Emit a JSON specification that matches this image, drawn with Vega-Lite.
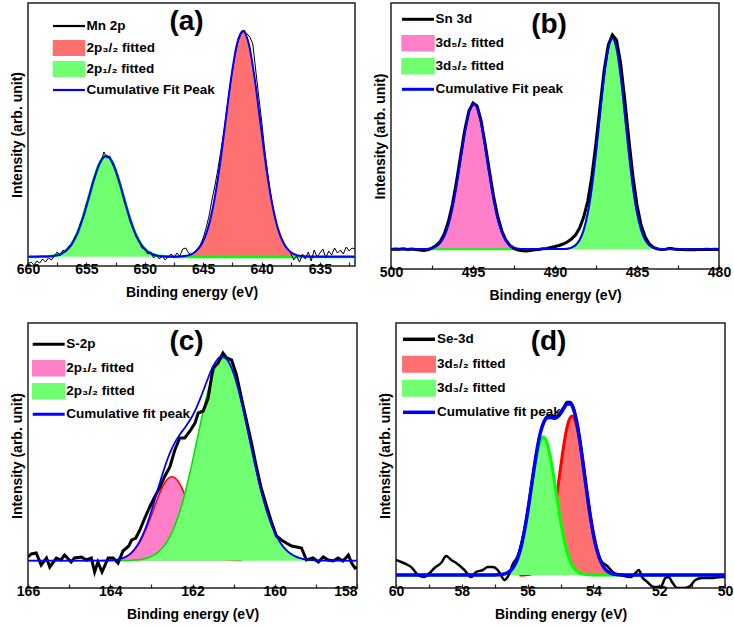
{
  "$schema": "https://vega.github.io/schema/vega-lite/v6.json",
  "background": "white",
  "padding": {"left": 9, "top": 2, "right": 0, "bottom": 0},
  "config": {
    "font": "Liberation Sans",
    "view": {"stroke": "#222222", "strokeWidth": 1.5},
    "axis": {"grid": false, "labelFont": "Liberation Sans", "labelFontSize": 14, "labelFontWeight": "bold", "labelColor": "#000000", "titleFont": "Liberation Sans", "titleFontSize": 14, "titleFontWeight": "bold", "titleColor": "#000000"},
    "axisX": {"domain": false, "tickSize": -4, "tickColor": "#222222", "tickWidth": 1.2, "labelPadding": 0, "titlePadding": 9, "labelFlush": false, "labelOverlap": false},
    "axisY": {"labels": false, "ticks": false, "domain": false, "titlePadding": 4},
    "legend": {"orient": "none", "labelFont": "Liberation Sans", "labelFontSize": 13.5, "labelFontWeight": "bold", "labelColor": "#000000", "labelLimit": 0, "symbolSize": 256, "rowPadding": 0.3, "labelOffset": 8, "padding": 0},
    "title": {"font": "Liberation Sans", "fontSize": 28, "fontWeight": "bold", "color": "#000000", "anchor": "middle", "offset": 0}
  },
  "spacing": 19,
  "resolve": {"scale": {"x": "independent", "y": "independent", "color": "independent"}, "legend": {"color": "independent"}},
  "vconcat": [
    {
      "spacing": 16,
      "resolve": {"scale": {"x": "independent", "y": "independent", "color": "independent"}, "legend": {"color": "independent"}},
      "hconcat": [
        {
          "width": 327, "height": 263,
          "title": {"text": "(a)", "dx": -5, "dy": 37},
          "data": {"name": "a"},
          "encoding": {
            "x": {"field": "x", "type": "quantitative", "scale": {"domain": [660, 632], "nice": false, "zero": false},
                  "axis": {"title": "Binding energy (eV)", "values": [660, 657.5, 655, 652.5, 650, 647.5, 645, 642.5, 640, 637.5, 635, 632.5], "labelExpr": "datum.value % 5 === 0 ? datum.label : ''"}},
            "y": {"field": "y", "type": "quantitative", "scale": {"domain": [0, 263], "nice": false, "zero": false}, "axis": {"title": "Intensity (arb. unit)"}}
          },
          "layer": [
            {"transform": [{"filter": "datum.s === '2p₃/₂ fitted'"}], "mark": {"type": "area", "interpolate": "monotone", "opacity": 1, "clip": true},
             "encoding": {"y2": {"datum": 9.3}, "color": {"field": "s", "type": "nominal", "scale": {"domain": ["Mn 2p", "2p₃/₂ fitted", "2p₁/₂ fitted", "Cumulative Fit Peak"], "range": ["#000000", "#FF7070", "#70FF70", "#0000FF"]},
               "legend": {"title": null, "legendX": 31.5, "legendY": 13.5, "rowPadding": -8, "symbolStrokeWidth": 2.2,
                 "symbolType": {"expr": "datum.value === 'Mn 2p' || datum.value === 'Cumulative Fit Peak' ? 'M-2,-1M-2,1M-2,0H2' : 'M-1.9,-0.85H1.9V0.85H-1.9Z'"},
                 "symbolFillColor": {"expr": "datum.value === '2p₃/₂ fitted' ? '#FF7070' : datum.value === '2p₁/₂ fitted' ? '#70FF70' : 'transparent'"},
                 "symbolStrokeColor": {"expr": "datum.value === 'Mn 2p' ? '#000000' : datum.value === 'Cumulative Fit Peak' ? '#0000FF' : datum.value === '2p₃/₂ fitted' ? '#FF7070' : '#70FF70'"},
                 "encode": {"symbols": {
                 "shape": {"value": {"expr": "datum.value === 'Mn 2p' || datum.value === 'Cumulative Fit Peak' ? 'M-2,-1M-2,1M-2,0H2' : 'M-1.9,-0.85H1.9V0.85H-1.9Z'"}},
                 "fill": {"value": {"expr": "datum.value === '2p₃/₂ fitted' ? '#FF7070' : datum.value === '2p₁/₂ fitted' ? '#70FF70' : 'transparent'"}},
                 "stroke": {"value": {"expr": "datum.value === 'Mn 2p' ? '#000000' : datum.value === 'Cumulative Fit Peak' ? '#0000FF' : datum.value === '2p₃/₂ fitted' ? '#FF7070' : '#70FF70'"}}}}}}}},
            {"transform": [{"filter": "datum.s === '2p₃/₂ fitted'"}], "mark": {"type": "line", "interpolate": "monotone", "color": "#FF2020", "strokeWidth": 1, "clip": true}, "encoding": {}},
            {"transform": [{"filter": "datum.s === '2p₁/₂ fitted'"}], "mark": {"type": "area", "interpolate": "monotone", "opacity": 1, "clip": true},
             "encoding": {"y2": {"datum": 9.3}, "color": {"field": "s", "type": "nominal", "scale": {"domain": ["Mn 2p", "2p₃/₂ fitted", "2p₁/₂ fitted", "Cumulative Fit Peak"], "range": ["#000000", "#FF7070", "#70FF70", "#0000FF"]}}}},
            {"transform": [{"filter": "datum.s === '2p₁/₂ fitted'"}], "mark": {"type": "line", "interpolate": "monotone", "color": "#00FF00", "strokeWidth": 3, "clip": true}, "encoding": {}},
            {"transform": [{"filter": "datum.s === 'Mn 2p'"}], "mark": {"type": "line", "strokeWidth": 1, "clip": true},
             "encoding": {"color": {"field": "s", "type": "nominal", "scale": {"domain": ["Mn 2p", "2p₃/₂ fitted", "2p₁/₂ fitted", "Cumulative Fit Peak"], "range": ["#000000", "#FF7070", "#70FF70", "#0000FF"]}}}},
            {"transform": [{"filter": "datum.s === 'Cumulative Fit Peak'"}], "mark": {"type": "line", "interpolate": "monotone", "strokeWidth": 2, "clip": true},
             "encoding": {"color": {"field": "s", "type": "nominal", "scale": {"domain": ["Mn 2p", "2p₃/₂ fitted", "2p₁/₂ fitted", "Cumulative Fit Peak"], "range": ["#000000", "#FF7070", "#70FF70", "#0000FF"]}}}}
          ]
        },
        {
          "width": 328, "height": 266,
          "title": {"text": "(b)", "dx": -6, "dy": 40},
          "data": {"name": "b"},
          "encoding": {
            "x": {"field": "x", "type": "quantitative", "scale": {"domain": [500, 480], "nice": false, "zero": false},
                  "axis": {"title": "Binding energy (eV)", "values": [500, 497.5, 495, 492.5, 490, 487.5, 485, 482.5, 480], "labelExpr": "datum.value % 5 === 0 ? datum.label : ''"}},
            "y": {"field": "y", "type": "quantitative", "scale": {"domain": [0, 266], "nice": false, "zero": false}, "axis": {"title": "Intensity (arb. unit)"}}
          },
          "layer": [
            {"transform": [{"filter": "datum.s === '3d₅/₂ fitted'"}], "mark": {"type": "area", "interpolate": "monotone", "opacity": 1, "clip": true},
             "encoding": {"y2": {"datum": 19.7}, "color": {"field": "s", "type": "nominal", "scale": {"domain": ["Sn 3d", "3d₅/₂ fitted", "3d₃/₂ fitted", "Cumulative Fit peak"], "range": ["#000000", "#FF80C8", "#70FF70", "#0000FF"]},
               "legend": {"title": null, "legendX": 17.5, "legendY": 6.8, "rowPadding": -12.5, "symbolStrokeWidth": 3,
                 "symbolType": {"expr": "datum.value === 'Sn 3d' || datum.value === 'Cumulative Fit peak' ? 'M-2,-1M-2,1M-2,0H2' : 'M-1.9,-0.85H1.9V0.85H-1.9Z'"},
                 "symbolFillColor": {"expr": "datum.value === '3d₅/₂ fitted' ? '#FF80C8' : datum.value === '3d₃/₂ fitted' ? '#70FF70' : 'transparent'"},
                 "symbolStrokeColor": {"expr": "datum.value === 'Sn 3d' ? '#000000' : datum.value === 'Cumulative Fit peak' ? '#0000FF' : datum.value === '3d₅/₂ fitted' ? '#FF80C8' : '#70FF70'"},
                 "encode": {"symbols": {
                 "shape": {"value": {"expr": "datum.value === 'Sn 3d' || datum.value === 'Cumulative Fit peak' ? 'M-2,-1M-2,1M-2,0H2' : 'M-1.9,-0.85H1.9V0.85H-1.9Z'"}},
                 "fill": {"value": {"expr": "datum.value === '3d₅/₂ fitted' ? '#FF80C8' : datum.value === '3d₃/₂ fitted' ? '#70FF70' : 'transparent'"}},
                 "stroke": {"value": {"expr": "datum.value === 'Sn 3d' ? '#000000' : datum.value === 'Cumulative Fit peak' ? '#0000FF' : datum.value === '3d₅/₂ fitted' ? '#FF80C8' : '#70FF70'"}}}}}}}},
            {"transform": [{"filter": "datum.s === '3d₅/₂ fitted'"}], "mark": {"type": "line", "interpolate": "monotone", "color": "#FF60B0", "strokeWidth": 1, "clip": true}, "encoding": {}},
            {"transform": [{"filter": "datum.s === '3d₃/₂ fitted'"}], "mark": {"type": "area", "interpolate": "monotone", "opacity": 1, "clip": true},
             "encoding": {"y2": {"datum": 19.7}, "color": {"field": "s", "type": "nominal", "scale": {"domain": ["Sn 3d", "3d₅/₂ fitted", "3d₃/₂ fitted", "Cumulative Fit peak"], "range": ["#000000", "#FF80C8", "#70FF70", "#0000FF"]}}}},
            {"transform": [{"filter": "datum.s === '3d₃/₂ fitted'"}], "mark": {"type": "line", "interpolate": "monotone", "color": "#00FF00", "strokeWidth": 2, "clip": true}, "encoding": {}},
            {"transform": [{"filter": "datum.s === 'Sn 3d'"}], "mark": {"type": "line", "strokeWidth": 3, "clip": true},
             "encoding": {"color": {"field": "s", "type": "nominal", "scale": {"domain": ["Sn 3d", "3d₅/₂ fitted", "3d₃/₂ fitted", "Cumulative Fit peak"], "range": ["#000000", "#FF80C8", "#70FF70", "#0000FF"]}}}},
            {"transform": [{"filter": "datum.s === 'Cumulative Fit peak'"}], "mark": {"type": "line", "interpolate": "monotone", "strokeWidth": 2, "clip": true},
             "encoding": {"color": {"field": "s", "type": "nominal", "scale": {"domain": ["Sn 3d", "3d₅/₂ fitted", "3d₃/₂ fitted", "Cumulative Fit peak"], "range": ["#000000", "#FF80C8", "#70FF70", "#0000FF"]}}}}
          ]
        }
      ]
    },
    {
      "spacing": 18,
      "resolve": {"scale": {"x": "independent", "y": "independent", "color": "independent"}, "legend": {"color": "independent"}},
      "hconcat": [
        {
          "width": 329, "height": 265,
          "title": {"text": "(c)", "dx": -6, "dy": 37},
          "data": {"name": "c"},
          "encoding": {
            "x": {"field": "x", "type": "quantitative", "scale": {"domain": [166, 158], "nice": false, "zero": false},
                  "axis": {"title": "Binding energy (eV)", "values": [166, 165, 164, 163, 162, 161, 160, 159, 158], "labelExpr": "datum.value % 2 === 0 ? datum.label : ''",
                           "labelAlign": {"condition": {"test": "datum.value === 158", "value": "right"}, "value": "center"}}},
            "y": {"field": "y", "type": "quantitative", "scale": {"domain": [0, 265], "nice": false, "zero": false}, "axis": {"title": "Intensity (arb. unit)"}}
          },
          "layer": [
            {"transform": [{"filter": "datum.s === '2p₁/₂ fitted'"}], "mark": {"type": "area", "interpolate": "monotone", "opacity": 1, "clip": true},
             "encoding": {"y2": {"datum": 27.3}, "color": {"field": "s", "type": "nominal", "scale": {"domain": ["S-2p", "2p₁/₂ fitted", "2p₃/₂ fitted", "Cumulative fit peak"], "range": ["#000000", "#FF80C8", "#70FF70", "#0000FF"]},
               "legend": {"title": null, "legendX": 11.2, "legendY": 11.8, "rowPadding": -12.5, "symbolStrokeWidth": 3,
                 "symbolType": {"expr": "datum.value === 'S-2p' || datum.value === 'Cumulative fit peak' ? 'M-2,-1M-2,1M-2,0H2' : 'M-1.9,-0.85H1.9V0.85H-1.9Z'"},
                 "symbolFillColor": {"expr": "datum.value === '2p₁/₂ fitted' ? '#FF80C8' : datum.value === '2p₃/₂ fitted' ? '#70FF70' : 'transparent'"},
                 "symbolStrokeColor": {"expr": "datum.value === 'S-2p' ? '#000000' : datum.value === 'Cumulative fit peak' ? '#0000FF' : datum.value === '2p₁/₂ fitted' ? '#FF80C8' : '#70FF70'"},
                 "encode": {"symbols": {
                 "shape": {"value": {"expr": "datum.value === 'S-2p' || datum.value === 'Cumulative fit peak' ? 'M-2,-1M-2,1M-2,0H2' : 'M-1.9,-0.85H1.9V0.85H-1.9Z'"}},
                 "fill": {"value": {"expr": "datum.value === '2p₁/₂ fitted' ? '#FF80C8' : datum.value === '2p₃/₂ fitted' ? '#70FF70' : 'transparent'"}},
                 "stroke": {"value": {"expr": "datum.value === 'S-2p' ? '#000000' : datum.value === 'Cumulative fit peak' ? '#0000FF' : datum.value === '2p₁/₂ fitted' ? '#FF80C8' : '#70FF70'"}}}}}}}},
            {"transform": [{"filter": "datum.s === '2p₁/₂ fitted'"}], "mark": {"type": "line", "interpolate": "monotone", "color": "#FF0000", "strokeWidth": 1.5, "clip": true}, "encoding": {}},
            {"transform": [{"filter": "datum.s === '2p₃/₂ fitted'"}], "mark": {"type": "area", "interpolate": "monotone", "opacity": 1, "clip": true},
             "encoding": {"y2": {"datum": 27.3}, "color": {"field": "s", "type": "nominal", "scale": {"domain": ["S-2p", "2p₁/₂ fitted", "2p₃/₂ fitted", "Cumulative fit peak"], "range": ["#000000", "#FF80C8", "#70FF70", "#0000FF"]}}}},
            {"transform": [{"filter": "datum.s === '2p₃/₂ fitted'"}], "mark": {"type": "line", "interpolate": "monotone", "color": "#00E000", "strokeWidth": 1.5, "clip": true}, "encoding": {}},
            {"transform": [{"filter": "datum.s === 'S-2p'"}], "mark": {"type": "line", "strokeWidth": 3, "clip": true},
             "encoding": {"color": {"field": "s", "type": "nominal", "scale": {"domain": ["S-2p", "2p₁/₂ fitted", "2p₃/₂ fitted", "Cumulative fit peak"], "range": ["#000000", "#FF80C8", "#70FF70", "#0000FF"]}}}},
            {"transform": [{"filter": "datum.s === 'Cumulative fit peak'"}], "mark": {"type": "line", "interpolate": "monotone", "strokeWidth": 1.8, "clip": true},
             "encoding": {"color": {"field": "s", "type": "nominal", "scale": {"domain": ["S-2p", "2p₁/₂ fitted", "2p₃/₂ fitted", "Cumulative fit peak"], "range": ["#000000", "#FF80C8", "#70FF70", "#0000FF"]}}}}
          ]
        },
        {
          "width": 329, "height": 265,
          "title": {"text": "(d)", "dx": -12, "dy": 37},
          "data": {"name": "d"},
          "encoding": {
            "x": {"field": "x", "type": "quantitative", "scale": {"domain": [60, 50], "nice": false, "zero": false},
                  "axis": {"title": "Binding energy (eV)", "values": [60, 59, 58, 57, 56, 55, 54, 53, 52, 51, 50], "labelExpr": "datum.value % 2 === 0 ? datum.label : ''"}},
            "y": {"field": "y", "type": "quantitative", "scale": {"domain": [0, 265], "nice": false, "zero": false}, "axis": {"title": "Intensity (arb. unit)"}}
          },
          "layer": [
            {"transform": [{"filter": "datum.s === '3d₅/₂ fitted'"}], "mark": {"type": "area", "interpolate": "monotone", "opacity": 1, "clip": true},
             "encoding": {"y2": {"datum": 13}, "color": {"field": "s", "type": "nominal", "scale": {"domain": ["Se-3d", "3d₅/₂ fitted", "3d₃/₂ fitted", "Cumulative fit peak"], "range": ["#000000", "#FF7070", "#70FF70", "#0000FF"]},
               "legend": {"title": null, "legendX": 13, "legendY": 6.3, "rowPadding": -12.5, "symbolStrokeWidth": 3.5,
                 "symbolType": {"expr": "datum.value === 'Se-3d' || datum.value === 'Cumulative fit peak' ? 'M-2,-1M-2,1M-2,0H2' : 'M-1.9,-0.85H1.9V0.85H-1.9Z'"},
                 "symbolFillColor": {"expr": "datum.value === '3d₅/₂ fitted' ? '#FF7070' : datum.value === '3d₃/₂ fitted' ? '#70FF70' : 'transparent'"},
                 "symbolStrokeColor": {"expr": "datum.value === 'Se-3d' ? '#000000' : datum.value === 'Cumulative fit peak' ? '#0000FF' : datum.value === '3d₅/₂ fitted' ? '#FF7070' : '#70FF70'"},
                 "encode": {"symbols": {
                 "shape": {"value": {"expr": "datum.value === 'Se-3d' || datum.value === 'Cumulative fit peak' ? 'M-2,-1M-2,1M-2,0H2' : 'M-1.9,-0.85H1.9V0.85H-1.9Z'"}},
                 "fill": {"value": {"expr": "datum.value === '3d₅/₂ fitted' ? '#FF7070' : datum.value === '3d₃/₂ fitted' ? '#70FF70' : 'transparent'"}},
                 "stroke": {"value": {"expr": "datum.value === 'Se-3d' ? '#000000' : datum.value === 'Cumulative fit peak' ? '#0000FF' : datum.value === '3d₅/₂ fitted' ? '#FF7070' : '#70FF70'"}}}}}}}},
            {"transform": [{"filter": "datum.s === '3d₅/₂ fitted'"}], "mark": {"type": "line", "interpolate": "monotone", "color": "#FF0000", "strokeWidth": 3, "clip": true}, "encoding": {}},
            {"transform": [{"filter": "datum.s === '3d₃/₂ fitted'"}], "mark": {"type": "area", "interpolate": "monotone", "opacity": 1, "clip": true},
             "encoding": {"y2": {"datum": 13}, "color": {"field": "s", "type": "nominal", "scale": {"domain": ["Se-3d", "3d₅/₂ fitted", "3d₃/₂ fitted", "Cumulative fit peak"], "range": ["#000000", "#FF7070", "#70FF70", "#0000FF"]}}}},
            {"transform": [{"filter": "datum.s === '3d₃/₂ fitted'"}], "mark": {"type": "line", "interpolate": "monotone", "color": "#00FF00", "strokeWidth": 3, "clip": true}, "encoding": {}},
            {"transform": [{"filter": "datum.s === 'Se-3d'"}], "mark": {"type": "line", "interpolate": "monotone", "strokeWidth": 2.5, "clip": true},
             "encoding": {"color": {"field": "s", "type": "nominal", "scale": {"domain": ["Se-3d", "3d₅/₂ fitted", "3d₃/₂ fitted", "Cumulative fit peak"], "range": ["#000000", "#FF7070", "#70FF70", "#0000FF"]}}}},
            {"transform": [{"filter": "datum.s === 'Cumulative fit peak'"}], "mark": {"type": "line", "interpolate": "monotone", "strokeWidth": 3.5, "clip": true},
             "encoding": {"color": {"field": "s", "type": "nominal", "scale": {"domain": ["Se-3d", "3d₅/₂ fitted", "3d₃/₂ fitted", "Cumulative fit peak"], "range": ["#000000", "#FF7070", "#70FF70", "#0000FF"]}}}}
          ]
        }
      ]
    }
  ],
  "datasets": {
    "a": [
      {"s": "Mn 2p", "x": 632.0, "y": 17}, {"s": "Mn 2p", "x": 632.25, "y": 18}, {"s": "Mn 2p", "x": 632.5, "y": 15}, {"s": "Mn 2p", "x": 632.75, "y": 19},
      {"s": "Mn 2p", "x": 633.0, "y": 12}, {"s": "Mn 2p", "x": 633.25, "y": 16}, {"s": "Mn 2p", "x": 633.5, "y": 13}, {"s": "Mn 2p", "x": 633.75, "y": 18},
      {"s": "Mn 2p", "x": 634.0, "y": 11}, {"s": "Mn 2p", "x": 634.25, "y": 15}, {"s": "Mn 2p", "x": 634.5, "y": 8}, {"s": "Mn 2p", "x": 634.75, "y": 17},
      {"s": "Mn 2p", "x": 635.0, "y": 13}, {"s": "Mn 2p", "x": 635.25, "y": 9}, {"s": "Mn 2p", "x": 635.5, "y": 16}, {"s": "Mn 2p", "x": 635.75, "y": 5},
      {"s": "Mn 2p", "x": 636.0, "y": 14}, {"s": "Mn 2p", "x": 636.25, "y": 7}, {"s": "Mn 2p", "x": 636.5, "y": 12}, {"s": "Mn 2p", "x": 636.75, "y": 4},
      {"s": "Mn 2p", "x": 637.0, "y": 10}, {"s": "Mn 2p", "x": 637.25, "y": 6}, {"s": "Mn 2p", "x": 637.5, "y": 13}, {"s": "Mn 2p", "x": 637.75, "y": 16},
      {"s": "Mn 2p", "x": 638.0, "y": 21}, {"s": "Mn 2p", "x": 638.25, "y": 27}, {"s": "Mn 2p", "x": 638.5, "y": 33}, {"s": "Mn 2p", "x": 638.75, "y": 44},
      {"s": "Mn 2p", "x": 639.0, "y": 57}, {"s": "Mn 2p", "x": 639.25, "y": 74}, {"s": "Mn 2p", "x": 639.5, "y": 95}, {"s": "Mn 2p", "x": 639.75, "y": 118},
      {"s": "Mn 2p", "x": 640.0, "y": 146}, {"s": "Mn 2p", "x": 640.25, "y": 170}, {"s": "Mn 2p", "x": 640.5, "y": 196}, {"s": "Mn 2p", "x": 640.75, "y": 222},
      {"s": "Mn 2p", "x": 641.0, "y": 229}, {"s": "Mn 2p", "x": 641.25, "y": 232}, {"s": "Mn 2p", "x": 641.5, "y": 236}, {"s": "Mn 2p", "x": 641.75, "y": 232},
      {"s": "Mn 2p", "x": 642.0, "y": 225}, {"s": "Mn 2p", "x": 642.25, "y": 212}, {"s": "Mn 2p", "x": 642.5, "y": 195}, {"s": "Mn 2p", "x": 642.75, "y": 176},
      {"s": "Mn 2p", "x": 643.0, "y": 155}, {"s": "Mn 2p", "x": 643.25, "y": 133}, {"s": "Mn 2p", "x": 643.5, "y": 114}, {"s": "Mn 2p", "x": 643.75, "y": 96},
      {"s": "Mn 2p", "x": 644.0, "y": 80}, {"s": "Mn 2p", "x": 644.25, "y": 66}, {"s": "Mn 2p", "x": 644.5, "y": 50}, {"s": "Mn 2p", "x": 644.75, "y": 38},
      {"s": "Mn 2p", "x": 645.0, "y": 28}, {"s": "Mn 2p", "x": 645.25, "y": 21}, {"s": "Mn 2p", "x": 645.5, "y": 17}, {"s": "Mn 2p", "x": 645.75, "y": 14},
      {"s": "Mn 2p", "x": 646.0, "y": 11}, {"s": "Mn 2p", "x": 646.25, "y": 13}, {"s": "Mn 2p", "x": 646.5, "y": 18}, {"s": "Mn 2p", "x": 646.75, "y": 17},
      {"s": "Mn 2p", "x": 647.0, "y": 10}, {"s": "Mn 2p", "x": 647.25, "y": 13}, {"s": "Mn 2p", "x": 647.5, "y": 8}, {"s": "Mn 2p", "x": 647.75, "y": 12},
      {"s": "Mn 2p", "x": 648.0, "y": 9}, {"s": "Mn 2p", "x": 648.25, "y": 6}, {"s": "Mn 2p", "x": 648.5, "y": 10}, {"s": "Mn 2p", "x": 648.75, "y": 7},
      {"s": "Mn 2p", "x": 649.0, "y": 11}, {"s": "Mn 2p", "x": 649.25, "y": 8}, {"s": "Mn 2p", "x": 649.5, "y": 14}, {"s": "Mn 2p", "x": 649.75, "y": 12},
      {"s": "Mn 2p", "x": 650.0, "y": 17}, {"s": "Mn 2p", "x": 650.25, "y": 18}, {"s": "Mn 2p", "x": 650.5, "y": 26}, {"s": "Mn 2p", "x": 650.75, "y": 29},
      {"s": "Mn 2p", "x": 651.0, "y": 39}, {"s": "Mn 2p", "x": 651.25, "y": 44}, {"s": "Mn 2p", "x": 651.5, "y": 57}, {"s": "Mn 2p", "x": 651.75, "y": 64},
      {"s": "Mn 2p", "x": 652.0, "y": 78}, {"s": "Mn 2p", "x": 652.25, "y": 85}, {"s": "Mn 2p", "x": 652.5, "y": 97}, {"s": "Mn 2p", "x": 652.75, "y": 101},
      {"s": "Mn 2p", "x": 653.0, "y": 110}, {"s": "Mn 2p", "x": 653.25, "y": 108}, {"s": "Mn 2p", "x": 653.5, "y": 114}, {"s": "Mn 2p", "x": 653.75, "y": 104},
      {"s": "Mn 2p", "x": 654.0, "y": 100}, {"s": "Mn 2p", "x": 654.25, "y": 89}, {"s": "Mn 2p", "x": 654.5, "y": 82}, {"s": "Mn 2p", "x": 654.75, "y": 69},
      {"s": "Mn 2p", "x": 655.0, "y": 62}, {"s": "Mn 2p", "x": 655.25, "y": 49}, {"s": "Mn 2p", "x": 655.5, "y": 43}, {"s": "Mn 2p", "x": 655.75, "y": 32},
      {"s": "Mn 2p", "x": 656.0, "y": 29}, {"s": "Mn 2p", "x": 656.25, "y": 21}, {"s": "Mn 2p", "x": 656.5, "y": 20}, {"s": "Mn 2p", "x": 656.75, "y": 14},
      {"s": "Mn 2p", "x": 657.0, "y": 16}, {"s": "Mn 2p", "x": 657.25, "y": 10}, {"s": "Mn 2p", "x": 657.5, "y": 14}, {"s": "Mn 2p", "x": 657.75, "y": 10},
      {"s": "Mn 2p", "x": 658.0, "y": 6}, {"s": "Mn 2p", "x": 658.25, "y": 8}, {"s": "Mn 2p", "x": 658.5, "y": 4}, {"s": "Mn 2p", "x": 658.75, "y": 7},
      {"s": "Mn 2p", "x": 659.0, "y": 3}, {"s": "Mn 2p", "x": 659.25, "y": 5}, {"s": "Mn 2p", "x": 659.5, "y": 1}, {"s": "Mn 2p", "x": 659.75, "y": 4},
      {"s": "Mn 2p", "x": 660.0, "y": 2},
      {"s": "2p₃/₂ fitted", "x": 635.6, "y": 9.3}, {"s": "2p₃/₂ fitted", "x": 636.1, "y": 9.5}, {"s": "2p₃/₂ fitted", "x": 636.6, "y": 10.0}, {"s": "2p₃/₂ fitted", "x": 637.1, "y": 11.4},
      {"s": "2p₃/₂ fitted", "x": 637.6, "y": 14.9}, {"s": "2p₃/₂ fitted", "x": 638.1, "y": 22.5}, {"s": "2p₃/₂ fitted", "x": 638.6, "y": 37.4}, {"s": "2p₃/₂ fitted", "x": 639.1, "y": 62.5},
      {"s": "2p₃/₂ fitted", "x": 639.6, "y": 98.7}, {"s": "2p₃/₂ fitted", "x": 640.1, "y": 143.4}, {"s": "2p₃/₂ fitted", "x": 640.6, "y": 188.4}, {"s": "2p₃/₂ fitted", "x": 641.1, "y": 222.3},
      {"s": "2p₃/₂ fitted", "x": 641.6, "y": 235.0}, {"s": "2p₃/₂ fitted", "x": 642.1, "y": 222.3}, {"s": "2p₃/₂ fitted", "x": 642.6, "y": 188.4}, {"s": "2p₃/₂ fitted", "x": 643.1, "y": 143.4},
      {"s": "2p₃/₂ fitted", "x": 643.6, "y": 98.7}, {"s": "2p₃/₂ fitted", "x": 644.1, "y": 62.5}, {"s": "2p₃/₂ fitted", "x": 644.6, "y": 37.4}, {"s": "2p₃/₂ fitted", "x": 645.1, "y": 22.5},
      {"s": "2p₃/₂ fitted", "x": 645.6, "y": 14.9}, {"s": "2p₃/₂ fitted", "x": 646.1, "y": 11.4}, {"s": "2p₃/₂ fitted", "x": 646.6, "y": 10.0}, {"s": "2p₃/₂ fitted", "x": 647.1, "y": 9.5},
      {"s": "2p₃/₂ fitted", "x": 647.6, "y": 9.3},
      {"s": "2p₁/₂ fitted", "x": 632.0, "y": 9.3}, {"s": "2p₁/₂ fitted", "x": 647.3, "y": 9.3}, {"s": "2p₁/₂ fitted", "x": 647.8, "y": 9.4}, {"s": "2p₁/₂ fitted", "x": 648.3, "y": 9.6},
      {"s": "2p₁/₂ fitted", "x": 648.8, "y": 10.1}, {"s": "2p₁/₂ fitted", "x": 649.3, "y": 11.5}, {"s": "2p₁/₂ fitted", "x": 649.8, "y": 14.8}, {"s": "2p₁/₂ fitted", "x": 650.3, "y": 21.1},
      {"s": "2p₁/₂ fitted", "x": 650.8, "y": 32.1}, {"s": "2p₁/₂ fitted", "x": 651.3, "y": 48.2}, {"s": "2p₁/₂ fitted", "x": 651.8, "y": 68.3}, {"s": "2p₁/₂ fitted", "x": 652.3, "y": 88.7},
      {"s": "2p₁/₂ fitted", "x": 652.8, "y": 104.2}, {"s": "2p₁/₂ fitted", "x": 653.3, "y": 110.0}, {"s": "2p₁/₂ fitted", "x": 653.8, "y": 104.2}, {"s": "2p₁/₂ fitted", "x": 654.3, "y": 88.7},
      {"s": "2p₁/₂ fitted", "x": 654.8, "y": 68.3}, {"s": "2p₁/₂ fitted", "x": 655.3, "y": 48.2}, {"s": "2p₁/₂ fitted", "x": 655.8, "y": 32.1}, {"s": "2p₁/₂ fitted", "x": 656.3, "y": 21.1},
      {"s": "2p₁/₂ fitted", "x": 656.8, "y": 14.8}, {"s": "2p₁/₂ fitted", "x": 657.3, "y": 11.5}, {"s": "2p₁/₂ fitted", "x": 657.8, "y": 10.1}, {"s": "2p₁/₂ fitted", "x": 658.3, "y": 9.6},
      {"s": "2p₁/₂ fitted", "x": 658.8, "y": 9.4}, {"s": "2p₁/₂ fitted", "x": 659.3, "y": 9.3}, {"s": "2p₁/₂ fitted", "x": 660.0, "y": 9.3},
      {"s": "Cumulative Fit Peak", "x": 632.0, "y": 9.3},
      {"s": "Cumulative Fit Peak", "x": 635.6, "y": 9.3}, {"s": "Cumulative Fit Peak", "x": 636.1, "y": 9.5}, {"s": "Cumulative Fit Peak", "x": 636.6, "y": 10.0}, {"s": "Cumulative Fit Peak", "x": 637.1, "y": 11.4},
      {"s": "Cumulative Fit Peak", "x": 637.6, "y": 14.9}, {"s": "Cumulative Fit Peak", "x": 638.1, "y": 22.5}, {"s": "Cumulative Fit Peak", "x": 638.6, "y": 37.4}, {"s": "Cumulative Fit Peak", "x": 639.1, "y": 62.5},
      {"s": "Cumulative Fit Peak", "x": 639.6, "y": 98.7}, {"s": "Cumulative Fit Peak", "x": 640.1, "y": 143.4}, {"s": "Cumulative Fit Peak", "x": 640.6, "y": 188.4}, {"s": "Cumulative Fit Peak", "x": 641.1, "y": 222.3},
      {"s": "Cumulative Fit Peak", "x": 641.6, "y": 235.0}, {"s": "Cumulative Fit Peak", "x": 642.1, "y": 222.3}, {"s": "Cumulative Fit Peak", "x": 642.6, "y": 188.4}, {"s": "Cumulative Fit Peak", "x": 643.1, "y": 143.4},
      {"s": "Cumulative Fit Peak", "x": 643.6, "y": 98.7}, {"s": "Cumulative Fit Peak", "x": 644.1, "y": 62.5}, {"s": "Cumulative Fit Peak", "x": 644.6, "y": 37.4}, {"s": "Cumulative Fit Peak", "x": 645.1, "y": 22.5},
      {"s": "Cumulative Fit Peak", "x": 645.6, "y": 14.9}, {"s": "Cumulative Fit Peak", "x": 646.1, "y": 11.4}, {"s": "Cumulative Fit Peak", "x": 646.6, "y": 10.0}, {"s": "Cumulative Fit Peak", "x": 647.1, "y": 9.5},
      {"s": "Cumulative Fit Peak", "x": 647.6, "y": 9.3},
      {"s": "Cumulative Fit Peak", "x": 648.3, "y": 9.6}, {"s": "Cumulative Fit Peak", "x": 648.8, "y": 10.1}, {"s": "Cumulative Fit Peak", "x": 649.3, "y": 11.5}, {"s": "Cumulative Fit Peak", "x": 649.8, "y": 14.8},
      {"s": "Cumulative Fit Peak", "x": 650.3, "y": 21.1}, {"s": "Cumulative Fit Peak", "x": 650.8, "y": 32.1}, {"s": "Cumulative Fit Peak", "x": 651.3, "y": 48.2}, {"s": "Cumulative Fit Peak", "x": 651.8, "y": 68.3},
      {"s": "Cumulative Fit Peak", "x": 652.3, "y": 88.7}, {"s": "Cumulative Fit Peak", "x": 652.8, "y": 104.2}, {"s": "Cumulative Fit Peak", "x": 653.3, "y": 110.0}, {"s": "Cumulative Fit Peak", "x": 653.8, "y": 104.2},
      {"s": "Cumulative Fit Peak", "x": 654.3, "y": 88.7}, {"s": "Cumulative Fit Peak", "x": 654.8, "y": 68.3}, {"s": "Cumulative Fit Peak", "x": 655.3, "y": 48.2}, {"s": "Cumulative Fit Peak", "x": 655.8, "y": 32.1},
      {"s": "Cumulative Fit Peak", "x": 656.3, "y": 21.1}, {"s": "Cumulative Fit Peak", "x": 656.8, "y": 14.8}, {"s": "Cumulative Fit Peak", "x": 657.3, "y": 11.5}, {"s": "Cumulative Fit Peak", "x": 657.8, "y": 10.1},
      {"s": "Cumulative Fit Peak", "x": 658.3, "y": 9.6}, {"s": "Cumulative Fit Peak", "x": 658.8, "y": 9.4}, {"s": "Cumulative Fit Peak", "x": 659.3, "y": 9.3}, {"s": "Cumulative Fit Peak", "x": 660.0, "y": 9.3}
    ],
    "b": [
      {"s": "Sn 3d", "x": 480.0, "y": 19.6}, {"s": "Sn 3d", "x": 480.25, "y": 19.7}, {"s": "Sn 3d", "x": 480.5, "y": 19.5}, {"s": "Sn 3d", "x": 480.75, "y": 19.8},
      {"s": "Sn 3d", "x": 481.0, "y": 19.4}, {"s": "Sn 3d", "x": 481.25, "y": 19.6}, {"s": "Sn 3d", "x": 481.5, "y": 19.3}, {"s": "Sn 3d", "x": 481.75, "y": 19.5},
      {"s": "Sn 3d", "x": 482.0, "y": 19.2}, {"s": "Sn 3d", "x": 482.25, "y": 19.4}, {"s": "Sn 3d", "x": 482.5, "y": 19.6}, {"s": "Sn 3d", "x": 482.75, "y": 20.0},
      {"s": "Sn 3d", "x": 483.0, "y": 20.8}, {"s": "Sn 3d", "x": 483.25, "y": 19.8}, {"s": "Sn 3d", "x": 483.5, "y": 19.5}, {"s": "Sn 3d", "x": 483.75, "y": 20.0},
      {"s": "Sn 3d", "x": 484.0, "y": 21.5}, {"s": "Sn 3d", "x": 484.25, "y": 25}, {"s": "Sn 3d", "x": 484.5, "y": 32}, {"s": "Sn 3d", "x": 484.75, "y": 44},
      {"s": "Sn 3d", "x": 485.0, "y": 64}, {"s": "Sn 3d", "x": 485.25, "y": 93}, {"s": "Sn 3d", "x": 485.5, "y": 130}, {"s": "Sn 3d", "x": 485.75, "y": 170},
      {"s": "Sn 3d", "x": 486.0, "y": 206}, {"s": "Sn 3d", "x": 486.25, "y": 229}, {"s": "Sn 3d", "x": 486.5, "y": 234}, {"s": "Sn 3d", "x": 486.75, "y": 224},
      {"s": "Sn 3d", "x": 487.0, "y": 199}, {"s": "Sn 3d", "x": 487.25, "y": 163}, {"s": "Sn 3d", "x": 487.5, "y": 126}, {"s": "Sn 3d", "x": 487.75, "y": 93},
      {"s": "Sn 3d", "x": 488.0, "y": 68}, {"s": "Sn 3d", "x": 488.25, "y": 52}, {"s": "Sn 3d", "x": 488.5, "y": 41}, {"s": "Sn 3d", "x": 488.75, "y": 34},
      {"s": "Sn 3d", "x": 489.0, "y": 30}, {"s": "Sn 3d", "x": 489.25, "y": 27}, {"s": "Sn 3d", "x": 489.5, "y": 25}, {"s": "Sn 3d", "x": 489.75, "y": 23.5},
      {"s": "Sn 3d", "x": 490.0, "y": 22.5}, {"s": "Sn 3d", "x": 490.25, "y": 21.6}, {"s": "Sn 3d", "x": 490.5, "y": 20.6}, {"s": "Sn 3d", "x": 490.75, "y": 20.2},
      {"s": "Sn 3d", "x": 491.0, "y": 19.6}, {"s": "Sn 3d", "x": 491.25, "y": 19.2}, {"s": "Sn 3d", "x": 491.5, "y": 18.6}, {"s": "Sn 3d", "x": 491.75, "y": 18.0},
      {"s": "Sn 3d", "x": 492.0, "y": 18.2}, {"s": "Sn 3d", "x": 492.25, "y": 19.0}, {"s": "Sn 3d", "x": 492.5, "y": 20.5}, {"s": "Sn 3d", "x": 492.75, "y": 23.5},
      {"s": "Sn 3d", "x": 493.0, "y": 29}, {"s": "Sn 3d", "x": 493.25, "y": 38.5}, {"s": "Sn 3d", "x": 493.5, "y": 53}, {"s": "Sn 3d", "x": 493.75, "y": 73},
      {"s": "Sn 3d", "x": 494.0, "y": 98}, {"s": "Sn 3d", "x": 494.25, "y": 124}, {"s": "Sn 3d", "x": 494.5, "y": 148}, {"s": "Sn 3d", "x": 494.75, "y": 163},
      {"s": "Sn 3d", "x": 495.0, "y": 166}, {"s": "Sn 3d", "x": 495.25, "y": 158}, {"s": "Sn 3d", "x": 495.5, "y": 139}, {"s": "Sn 3d", "x": 495.75, "y": 114},
      {"s": "Sn 3d", "x": 496.0, "y": 88}, {"s": "Sn 3d", "x": 496.25, "y": 65}, {"s": "Sn 3d", "x": 496.5, "y": 47.5}, {"s": "Sn 3d", "x": 496.75, "y": 35},
      {"s": "Sn 3d", "x": 497.0, "y": 27.5}, {"s": "Sn 3d", "x": 497.25, "y": 23.5}, {"s": "Sn 3d", "x": 497.5, "y": 21.0}, {"s": "Sn 3d", "x": 497.75, "y": 19.2},
      {"s": "Sn 3d", "x": 498.0, "y": 18.6}, {"s": "Sn 3d", "x": 498.25, "y": 19.0}, {"s": "Sn 3d", "x": 498.5, "y": 19.4}, {"s": "Sn 3d", "x": 498.75, "y": 20.1},
      {"s": "Sn 3d", "x": 499.0, "y": 19.6}, {"s": "Sn 3d", "x": 499.25, "y": 20.2}, {"s": "Sn 3d", "x": 499.5, "y": 19.8}, {"s": "Sn 3d", "x": 499.75, "y": 20.0},
      {"s": "Sn 3d", "x": 500.0, "y": 19.5},
      {"s": "3d₅/₂ fitted", "x": 491.95, "y": 19.9}, {"s": "3d₅/₂ fitted", "x": 492.2, "y": 20.2}, {"s": "3d₅/₂ fitted", "x": 492.45, "y": 21.1}, {"s": "3d₅/₂ fitted", "x": 492.7, "y": 23.1},
      {"s": "3d₅/₂ fitted", "x": 492.95, "y": 27.1}, {"s": "3d₅/₂ fitted", "x": 493.2, "y": 34.6}, {"s": "3d₅/₂ fitted", "x": 493.45, "y": 47.0}, {"s": "3d₅/₂ fitted", "x": 493.7, "y": 65.3},
      {"s": "3d₅/₂ fitted", "x": 493.95, "y": 88.9}, {"s": "3d₅/₂ fitted", "x": 494.2, "y": 115.5}, {"s": "3d₅/₂ fitted", "x": 494.45, "y": 140.6}, {"s": "3d₅/₂ fitted", "x": 494.7, "y": 158.7},
      {"s": "3d₅/₂ fitted", "x": 494.95, "y": 165.3}, {"s": "3d₅/₂ fitted", "x": 495.2, "y": 158.7}, {"s": "3d₅/₂ fitted", "x": 495.45, "y": 140.6}, {"s": "3d₅/₂ fitted", "x": 495.7, "y": 115.5},
      {"s": "3d₅/₂ fitted", "x": 495.95, "y": 88.9}, {"s": "3d₅/₂ fitted", "x": 496.2, "y": 65.3}, {"s": "3d₅/₂ fitted", "x": 496.45, "y": 47.0}, {"s": "3d₅/₂ fitted", "x": 496.7, "y": 34.6},
      {"s": "3d₅/₂ fitted", "x": 496.95, "y": 27.1}, {"s": "3d₅/₂ fitted", "x": 497.2, "y": 23.1}, {"s": "3d₅/₂ fitted", "x": 497.45, "y": 21.1}, {"s": "3d₅/₂ fitted", "x": 497.7, "y": 20.2},
      {"s": "3d₅/₂ fitted", "x": 497.95, "y": 19.9},
      {"s": "3d₃/₂ fitted", "x": 480.0, "y": 19.7}, {"s": "3d₃/₂ fitted", "x": 483.5, "y": 19.9}, {"s": "3d₃/₂ fitted", "x": 483.75, "y": 20.3}, {"s": "3d₃/₂ fitted", "x": 484.0, "y": 21.3},
      {"s": "3d₃/₂ fitted", "x": 484.25, "y": 23.7}, {"s": "3d₃/₂ fitted", "x": 484.5, "y": 29.0}, {"s": "3d₃/₂ fitted", "x": 484.75, "y": 39.0}, {"s": "3d₃/₂ fitted", "x": 485.0, "y": 56.1},
      {"s": "3d₃/₂ fitted", "x": 485.25, "y": 81.9}, {"s": "3d₃/₂ fitted", "x": 485.5, "y": 116.3}, {"s": "3d₃/₂ fitted", "x": 485.75, "y": 155.7}, {"s": "3d₃/₂ fitted", "x": 486.0, "y": 193.3},
      {"s": "3d₃/₂ fitted", "x": 486.25, "y": 220.6}, {"s": "3d₃/₂ fitted", "x": 486.5, "y": 230.7}, {"s": "3d₃/₂ fitted", "x": 486.75, "y": 220.6}, {"s": "3d₃/₂ fitted", "x": 487.0, "y": 193.3},
      {"s": "3d₃/₂ fitted", "x": 487.25, "y": 155.7}, {"s": "3d₃/₂ fitted", "x": 487.5, "y": 116.3}, {"s": "3d₃/₂ fitted", "x": 487.75, "y": 81.9}, {"s": "3d₃/₂ fitted", "x": 488.0, "y": 56.1},
      {"s": "3d₃/₂ fitted", "x": 488.25, "y": 39.0}, {"s": "3d₃/₂ fitted", "x": 488.5, "y": 29.0}, {"s": "3d₃/₂ fitted", "x": 488.75, "y": 23.7}, {"s": "3d₃/₂ fitted", "x": 489.0, "y": 21.3},
      {"s": "3d₃/₂ fitted", "x": 489.25, "y": 20.3}, {"s": "3d₃/₂ fitted", "x": 489.5, "y": 19.9}, {"s": "3d₃/₂ fitted", "x": 500.0, "y": 19.7},
      {"s": "Cumulative Fit peak", "x": 480.0, "y": 19.7},
      {"s": "Cumulative Fit peak", "x": 483.5, "y": 19.9}, {"s": "Cumulative Fit peak", "x": 483.75, "y": 20.3}, {"s": "Cumulative Fit peak", "x": 484.0, "y": 21.3},
      {"s": "Cumulative Fit peak", "x": 484.25, "y": 23.7}, {"s": "Cumulative Fit peak", "x": 484.5, "y": 29.0}, {"s": "Cumulative Fit peak", "x": 484.75, "y": 39.0}, {"s": "Cumulative Fit peak", "x": 485.0, "y": 56.1},
      {"s": "Cumulative Fit peak", "x": 485.25, "y": 81.9}, {"s": "Cumulative Fit peak", "x": 485.5, "y": 116.3}, {"s": "Cumulative Fit peak", "x": 485.75, "y": 155.7}, {"s": "Cumulative Fit peak", "x": 486.0, "y": 193.3},
      {"s": "Cumulative Fit peak", "x": 486.25, "y": 220.6}, {"s": "Cumulative Fit peak", "x": 486.5, "y": 230.7}, {"s": "Cumulative Fit peak", "x": 486.75, "y": 220.6}, {"s": "Cumulative Fit peak", "x": 487.0, "y": 193.3},
      {"s": "Cumulative Fit peak", "x": 487.25, "y": 155.7}, {"s": "Cumulative Fit peak", "x": 487.5, "y": 116.3}, {"s": "Cumulative Fit peak", "x": 487.75, "y": 81.9}, {"s": "Cumulative Fit peak", "x": 488.0, "y": 56.1},
      {"s": "Cumulative Fit peak", "x": 488.25, "y": 39.0}, {"s": "Cumulative Fit peak", "x": 488.5, "y": 29.0}, {"s": "Cumulative Fit peak", "x": 488.75, "y": 23.7}, {"s": "Cumulative Fit peak", "x": 489.0, "y": 21.3},
      {"s": "Cumulative Fit peak", "x": 489.25, "y": 20.3}, {"s": "Cumulative Fit peak", "x": 489.5, "y": 19.9},
      {"s": "Cumulative Fit peak", "x": 491.95, "y": 19.9}, {"s": "Cumulative Fit peak", "x": 492.2, "y": 20.2}, {"s": "Cumulative Fit peak", "x": 492.45, "y": 21.1}, {"s": "Cumulative Fit peak", "x": 492.7, "y": 23.1},
      {"s": "Cumulative Fit peak", "x": 492.95, "y": 27.1}, {"s": "Cumulative Fit peak", "x": 493.2, "y": 34.6}, {"s": "Cumulative Fit peak", "x": 493.45, "y": 47.0}, {"s": "Cumulative Fit peak", "x": 493.7, "y": 65.3},
      {"s": "Cumulative Fit peak", "x": 493.95, "y": 88.9}, {"s": "Cumulative Fit peak", "x": 494.2, "y": 115.5}, {"s": "Cumulative Fit peak", "x": 494.45, "y": 140.6}, {"s": "Cumulative Fit peak", "x": 494.7, "y": 158.7},
      {"s": "Cumulative Fit peak", "x": 494.95, "y": 165.3}, {"s": "Cumulative Fit peak", "x": 495.2, "y": 158.7}, {"s": "Cumulative Fit peak", "x": 495.45, "y": 140.6}, {"s": "Cumulative Fit peak", "x": 495.7, "y": 115.5},
      {"s": "Cumulative Fit peak", "x": 495.95, "y": 88.9}, {"s": "Cumulative Fit peak", "x": 496.2, "y": 65.3}, {"s": "Cumulative Fit peak", "x": 496.45, "y": 47.0}, {"s": "Cumulative Fit peak", "x": 496.7, "y": 34.6},
      {"s": "Cumulative Fit peak", "x": 496.95, "y": 27.1}, {"s": "Cumulative Fit peak", "x": 497.2, "y": 23.1}, {"s": "Cumulative Fit peak", "x": 497.45, "y": 21.1}, {"s": "Cumulative Fit peak", "x": 497.7, "y": 20.2},
      {"s": "Cumulative Fit peak", "x": 497.95, "y": 19.9}, {"s": "Cumulative Fit peak", "x": 500.0, "y": 19.7}
    ],
    "c": [
      {"s": "S-2p", "x": 166.0, "y": 31}, {"s": "S-2p", "x": 165.92, "y": 34}, {"s": "S-2p", "x": 165.8, "y": 35}, {"s": "S-2p", "x": 165.68, "y": 23},
      {"s": "S-2p", "x": 165.55, "y": 30}, {"s": "S-2p", "x": 165.47, "y": 21}, {"s": "S-2p", "x": 165.31, "y": 30}, {"s": "S-2p", "x": 165.2, "y": 28},
      {"s": "S-2p", "x": 165.11, "y": 33}, {"s": "S-2p", "x": 164.95, "y": 26}, {"s": "S-2p", "x": 164.87, "y": 30}, {"s": "S-2p", "x": 164.7, "y": 31},
      {"s": "S-2p", "x": 164.58, "y": 28}, {"s": "S-2p", "x": 164.46, "y": 30}, {"s": "S-2p", "x": 164.38, "y": 16}, {"s": "S-2p", "x": 164.3, "y": 26},
      {"s": "S-2p", "x": 164.2, "y": 16}, {"s": "S-2p", "x": 164.05, "y": 30}, {"s": "S-2p", "x": 163.93, "y": 30}, {"s": "S-2p", "x": 163.81, "y": 25},
      {"s": "S-2p", "x": 163.69, "y": 37}, {"s": "S-2p", "x": 163.55, "y": 42}, {"s": "S-2p", "x": 163.48, "y": 48}, {"s": "S-2p", "x": 163.38, "y": 50},
      {"s": "S-2p", "x": 163.28, "y": 58}, {"s": "S-2p", "x": 163.16, "y": 70}, {"s": "S-2p", "x": 163.04, "y": 81}, {"s": "S-2p", "x": 162.92, "y": 91},
      {"s": "S-2p", "x": 162.79, "y": 101}, {"s": "S-2p", "x": 162.67, "y": 112}, {"s": "S-2p", "x": 162.55, "y": 121}, {"s": "S-2p", "x": 162.43, "y": 138},
      {"s": "S-2p", "x": 162.31, "y": 150}, {"s": "S-2p", "x": 162.19, "y": 150}, {"s": "S-2p", "x": 162.06, "y": 157}, {"s": "S-2p", "x": 161.94, "y": 165},
      {"s": "S-2p", "x": 161.86, "y": 175}, {"s": "S-2p", "x": 161.74, "y": 177}, {"s": "S-2p", "x": 161.62, "y": 190}, {"s": "S-2p", "x": 161.5, "y": 220},
      {"s": "S-2p", "x": 161.38, "y": 225}, {"s": "S-2p", "x": 161.26, "y": 235}, {"s": "S-2p", "x": 161.17, "y": 230}, {"s": "S-2p", "x": 161.05, "y": 228},
      {"s": "S-2p", "x": 160.93, "y": 213}, {"s": "S-2p", "x": 160.81, "y": 190}, {"s": "S-2p", "x": 160.69, "y": 168}, {"s": "S-2p", "x": 160.57, "y": 146},
      {"s": "S-2p", "x": 160.45, "y": 122}, {"s": "S-2p", "x": 160.33, "y": 100}, {"s": "S-2p", "x": 160.2, "y": 82}, {"s": "S-2p", "x": 160.08, "y": 66},
      {"s": "S-2p", "x": 159.96, "y": 52}, {"s": "S-2p", "x": 159.84, "y": 48}, {"s": "S-2p", "x": 159.72, "y": 45}, {"s": "S-2p", "x": 159.59, "y": 42},
      {"s": "S-2p", "x": 159.47, "y": 41}, {"s": "S-2p", "x": 159.35, "y": 40}, {"s": "S-2p", "x": 159.23, "y": 28}, {"s": "S-2p", "x": 159.07, "y": 30},
      {"s": "S-2p", "x": 158.94, "y": 26}, {"s": "S-2p", "x": 158.82, "y": 31}, {"s": "S-2p", "x": 158.7, "y": 28}, {"s": "S-2p", "x": 158.58, "y": 27},
      {"s": "S-2p", "x": 158.46, "y": 30}, {"s": "S-2p", "x": 158.34, "y": 27}, {"s": "S-2p", "x": 158.21, "y": 33}, {"s": "S-2p", "x": 158.13, "y": 25},
      {"s": "S-2p", "x": 158.05, "y": 20}, {"s": "S-2p", "x": 158.0, "y": 21},
      {"s": "2p₁/₂ fitted", "x": 160.8, "y": 27.4}, {"s": "2p₁/₂ fitted", "x": 161.0, "y": 27.6}, {"s": "2p₁/₂ fitted", "x": 161.1, "y": 28.0}, {"s": "2p₁/₂ fitted", "x": 161.2, "y": 28.6},
      {"s": "2p₁/₂ fitted", "x": 161.3, "y": 29.7}, {"s": "2p₁/₂ fitted", "x": 161.4, "y": 31.5}, {"s": "2p₁/₂ fitted", "x": 161.5, "y": 34.4}, {"s": "2p₁/₂ fitted", "x": 161.6, "y": 38.7},
      {"s": "2p₁/₂ fitted", "x": 161.7, "y": 44.6}, {"s": "2p₁/₂ fitted", "x": 161.8, "y": 52.3}, {"s": "2p₁/₂ fitted", "x": 161.9, "y": 61.8}, {"s": "2p₁/₂ fitted", "x": 162.0, "y": 72.6},
      {"s": "2p₁/₂ fitted", "x": 162.1, "y": 83.9}, {"s": "2p₁/₂ fitted", "x": 162.2, "y": 94.6}, {"s": "2p₁/₂ fitted", "x": 162.3, "y": 103.4}, {"s": "2p₁/₂ fitted", "x": 162.4, "y": 109.3},
      {"s": "2p₁/₂ fitted", "x": 162.5, "y": 111.3}, {"s": "2p₁/₂ fitted", "x": 162.6, "y": 109.3}, {"s": "2p₁/₂ fitted", "x": 162.7, "y": 103.4}, {"s": "2p₁/₂ fitted", "x": 162.8, "y": 94.6},
      {"s": "2p₁/₂ fitted", "x": 162.9, "y": 83.9}, {"s": "2p₁/₂ fitted", "x": 163.0, "y": 72.6}, {"s": "2p₁/₂ fitted", "x": 163.1, "y": 61.8}, {"s": "2p₁/₂ fitted", "x": 163.2, "y": 52.3},
      {"s": "2p₁/₂ fitted", "x": 163.3, "y": 44.6}, {"s": "2p₁/₂ fitted", "x": 163.4, "y": 38.7}, {"s": "2p₁/₂ fitted", "x": 163.5, "y": 34.4}, {"s": "2p₁/₂ fitted", "x": 163.6, "y": 31.5},
      {"s": "2p₁/₂ fitted", "x": 163.7, "y": 29.7}, {"s": "2p₁/₂ fitted", "x": 163.8, "y": 28.6}, {"s": "2p₁/₂ fitted", "x": 163.9, "y": 28.0}, {"s": "2p₁/₂ fitted", "x": 164.0, "y": 27.6},
      {"s": "2p₁/₂ fitted", "x": 164.2, "y": 27.4},
      {"s": "2p₃/₂ fitted", "x": 158.0, "y": 27.3}, {"s": "2p₃/₂ fitted", "x": 158.85, "y": 27.4}, {"s": "2p₃/₂ fitted", "x": 159.05, "y": 27.8}, {"s": "2p₃/₂ fitted", "x": 159.25, "y": 28.6},
      {"s": "2p₃/₂ fitted", "x": 159.35, "y": 29.4}, {"s": "2p₃/₂ fitted", "x": 159.45, "y": 30.7}, {"s": "2p₃/₂ fitted", "x": 159.55, "y": 32.6}, {"s": "2p₃/₂ fitted", "x": 159.65, "y": 35.4},
      {"s": "2p₃/₂ fitted", "x": 159.75, "y": 39.2}, {"s": "2p₃/₂ fitted", "x": 159.85, "y": 44.4}, {"s": "2p₃/₂ fitted", "x": 159.95, "y": 51.4}, {"s": "2p₃/₂ fitted", "x": 160.05, "y": 60.3},
      {"s": "2p₃/₂ fitted", "x": 160.15, "y": 71.4}, {"s": "2p₃/₂ fitted", "x": 160.25, "y": 84.7}, {"s": "2p₃/₂ fitted", "x": 160.35, "y": 100.3}, {"s": "2p₃/₂ fitted", "x": 160.45, "y": 117.7},
      {"s": "2p₃/₂ fitted", "x": 160.55, "y": 136.5}, {"s": "2p₃/₂ fitted", "x": 160.65, "y": 155.9}, {"s": "2p₃/₂ fitted", "x": 160.75, "y": 175.0}, {"s": "2p₃/₂ fitted", "x": 160.85, "y": 192.8},
      {"s": "2p₃/₂ fitted", "x": 160.95, "y": 208.0}, {"s": "2p₃/₂ fitted", "x": 161.05, "y": 219.8}, {"s": "2p₃/₂ fitted", "x": 161.15, "y": 227.2}, {"s": "2p₃/₂ fitted", "x": 161.25, "y": 229.7},
      {"s": "2p₃/₂ fitted", "x": 161.35, "y": 227.2}, {"s": "2p₃/₂ fitted", "x": 161.45, "y": 219.8}, {"s": "2p₃/₂ fitted", "x": 161.55, "y": 208.0}, {"s": "2p₃/₂ fitted", "x": 161.65, "y": 192.8},
      {"s": "2p₃/₂ fitted", "x": 161.75, "y": 175.0}, {"s": "2p₃/₂ fitted", "x": 161.85, "y": 155.9}, {"s": "2p₃/₂ fitted", "x": 161.95, "y": 136.5}, {"s": "2p₃/₂ fitted", "x": 162.05, "y": 117.7},
      {"s": "2p₃/₂ fitted", "x": 162.15, "y": 100.3}, {"s": "2p₃/₂ fitted", "x": 162.25, "y": 84.7}, {"s": "2p₃/₂ fitted", "x": 162.35, "y": 71.4}, {"s": "2p₃/₂ fitted", "x": 162.45, "y": 60.3},
      {"s": "2p₃/₂ fitted", "x": 162.55, "y": 51.4}, {"s": "2p₃/₂ fitted", "x": 162.65, "y": 44.4}, {"s": "2p₃/₂ fitted", "x": 162.75, "y": 39.2}, {"s": "2p₃/₂ fitted", "x": 162.85, "y": 35.4},
      {"s": "2p₃/₂ fitted", "x": 162.95, "y": 32.6}, {"s": "2p₃/₂ fitted", "x": 163.05, "y": 30.7}, {"s": "2p₃/₂ fitted", "x": 163.15, "y": 29.4}, {"s": "2p₃/₂ fitted", "x": 163.25, "y": 28.6},
      {"s": "2p₃/₂ fitted", "x": 163.45, "y": 27.8}, {"s": "2p₃/₂ fitted", "x": 163.65, "y": 27.4}, {"s": "2p₃/₂ fitted", "x": 166.0, "y": 27.3},
      {"s": "Cumulative fit peak", "x": 166.0, "y": 27.3}, {"s": "Cumulative fit peak", "x": 164.2, "y": 27.4}, {"s": "Cumulative fit peak", "x": 164.0, "y": 27.6}, {"s": "Cumulative fit peak", "x": 163.9, "y": 28.0},
      {"s": "Cumulative fit peak", "x": 163.8, "y": 28.7}, {"s": "Cumulative fit peak", "x": 163.7, "y": 29.8}, {"s": "Cumulative fit peak", "x": 163.6, "y": 31.7}, {"s": "Cumulative fit peak", "x": 163.5, "y": 34.7},
      {"s": "Cumulative fit peak", "x": 163.4, "y": 39.3}, {"s": "Cumulative fit peak", "x": 163.3, "y": 45.6}, {"s": "Cumulative fit peak", "x": 163.2, "y": 54.0}, {"s": "Cumulative fit peak", "x": 163.1, "y": 64.5},
      {"s": "Cumulative fit peak", "x": 163.0, "y": 76.9}, {"s": "Cumulative fit peak", "x": 162.9, "y": 90.5}, {"s": "Cumulative fit peak", "x": 162.8, "y": 104.4}, {"s": "Cumulative fit peak", "x": 162.7, "y": 117.7},
      {"s": "Cumulative fit peak", "x": 162.6, "y": 129.7}, {"s": "Cumulative fit peak", "x": 162.5, "y": 139.6}, {"s": "Cumulative fit peak", "x": 162.4, "y": 147.6}, {"s": "Cumulative fit peak", "x": 162.3, "y": 153.9},
      {"s": "Cumulative fit peak", "x": 162.2, "y": 159.5}, {"s": "Cumulative fit peak", "x": 162.1, "y": 165.4}, {"s": "Cumulative fit peak", "x": 162.0, "y": 172.3}, {"s": "Cumulative fit peak", "x": 161.9, "y": 180.7},
      {"s": "Cumulative fit peak", "x": 161.8, "y": 190.6}, {"s": "Cumulative fit peak", "x": 161.7, "y": 201.4}, {"s": "Cumulative fit peak", "x": 161.6, "y": 212.2}, {"s": "Cumulative fit peak", "x": 161.5, "y": 221.5},
      {"s": "Cumulative fit peak", "x": 161.4, "y": 228.2}, {"s": "Cumulative fit peak", "x": 161.3, "y": 231.5}, {"s": "Cumulative fit peak", "x": 161.2, "y": 230.4}, {"s": "Cumulative fit peak", "x": 161.1, "y": 224.7},
      {"s": "Cumulative fit peak", "x": 161.0, "y": 214.7}, {"s": "Cumulative fit peak", "x": 160.9, "y": 200.9}, {"s": "Cumulative fit peak", "x": 160.8, "y": 184.2}, {"s": "Cumulative fit peak", "x": 160.7, "y": 165.6},
      {"s": "Cumulative fit peak", "x": 160.6, "y": 146.2}, {"s": "Cumulative fit peak", "x": 160.5, "y": 127.0}, {"s": "Cumulative fit peak", "x": 160.4, "y": 108.8}, {"s": "Cumulative fit peak", "x": 160.3, "y": 92.2},
      {"s": "Cumulative fit peak", "x": 160.2, "y": 77.8}, {"s": "Cumulative fit peak", "x": 160.1, "y": 65.6}, {"s": "Cumulative fit peak", "x": 160.0, "y": 55.6}, {"s": "Cumulative fit peak", "x": 159.9, "y": 47.7},
      {"s": "Cumulative fit peak", "x": 159.8, "y": 41.6}, {"s": "Cumulative fit peak", "x": 159.7, "y": 37.1}, {"s": "Cumulative fit peak", "x": 159.6, "y": 33.9}, {"s": "Cumulative fit peak", "x": 159.5, "y": 31.6},
      {"s": "Cumulative fit peak", "x": 159.4, "y": 30.0}, {"s": "Cumulative fit peak", "x": 159.3, "y": 29.0}, {"s": "Cumulative fit peak", "x": 159.2, "y": 28.3}, {"s": "Cumulative fit peak", "x": 159.0, "y": 27.6},
      {"s": "Cumulative fit peak", "x": 158.8, "y": 27.4}, {"s": "Cumulative fit peak", "x": 158.0, "y": 27.3}
    ],
    "d": [
      {"s": "Se-3d", "x": 60.0, "y": 28}, {"s": "Se-3d", "x": 59.84, "y": 26}, {"s": "Se-3d", "x": 59.64, "y": 23}, {"s": "Se-3d", "x": 59.54, "y": 21},
      {"s": "Se-3d", "x": 59.33, "y": 13}, {"s": "Se-3d", "x": 59.13, "y": 11}, {"s": "Se-3d", "x": 58.98, "y": 15}, {"s": "Se-3d", "x": 58.83, "y": 20},
      {"s": "Se-3d", "x": 58.63, "y": 25}, {"s": "Se-3d", "x": 58.47, "y": 32}, {"s": "Se-3d", "x": 58.32, "y": 28}, {"s": "Se-3d", "x": 58.17, "y": 25},
      {"s": "Se-3d", "x": 57.92, "y": 18}, {"s": "Se-3d", "x": 57.72, "y": 11}, {"s": "Se-3d", "x": 57.57, "y": 16}, {"s": "Se-3d", "x": 57.36, "y": 18},
      {"s": "Se-3d", "x": 57.21, "y": 21}, {"s": "Se-3d", "x": 57.06, "y": 21}, {"s": "Se-3d", "x": 56.91, "y": 18}, {"s": "Se-3d", "x": 56.81, "y": 13},
      {"s": "Se-3d", "x": 56.71, "y": 8}, {"s": "Se-3d", "x": 56.56, "y": 14}, {"s": "Se-3d", "x": 56.45, "y": 24}, {"s": "Se-3d", "x": 56.3, "y": 32},
      {"s": "Se-3d", "x": 56.2, "y": 43}, {"s": "Se-3d", "x": 56.1, "y": 58}, {"s": "Se-3d", "x": 56.0, "y": 77}, {"s": "Se-3d", "x": 55.9, "y": 99},
      {"s": "Se-3d", "x": 55.8, "y": 121}, {"s": "Se-3d", "x": 55.7, "y": 141}, {"s": "Se-3d", "x": 55.6, "y": 157}, {"s": "Se-3d", "x": 55.5, "y": 167},
      {"s": "Se-3d", "x": 55.4, "y": 172}, {"s": "Se-3d", "x": 55.3, "y": 173}, {"s": "Se-3d", "x": 55.2, "y": 172}, {"s": "Se-3d", "x": 55.1, "y": 172},
      {"s": "Se-3d", "x": 55.0, "y": 176}, {"s": "Se-3d", "x": 54.9, "y": 181}, {"s": "Se-3d", "x": 54.8, "y": 186}, {"s": "Se-3d", "x": 54.7, "y": 186},
      {"s": "Se-3d", "x": 54.6, "y": 180}, {"s": "Se-3d", "x": 54.5, "y": 166}, {"s": "Se-3d", "x": 54.4, "y": 146}, {"s": "Se-3d", "x": 54.3, "y": 122},
      {"s": "Se-3d", "x": 54.2, "y": 97}, {"s": "Se-3d", "x": 54.1, "y": 74}, {"s": "Se-3d", "x": 54.0, "y": 54}, {"s": "Se-3d", "x": 53.9, "y": 39},
      {"s": "Se-3d", "x": 53.78, "y": 28}, {"s": "Se-3d", "x": 53.58, "y": 22}, {"s": "Se-3d", "x": 53.37, "y": 15}, {"s": "Se-3d", "x": 53.17, "y": 13},
      {"s": "Se-3d", "x": 52.87, "y": 11}, {"s": "Se-3d", "x": 52.72, "y": 15}, {"s": "Se-3d", "x": 52.62, "y": 18}, {"s": "Se-3d", "x": 52.52, "y": 11},
      {"s": "Se-3d", "x": 52.36, "y": 6}, {"s": "Se-3d", "x": 52.16, "y": 1}, {"s": "Se-3d", "x": 51.96, "y": 1}, {"s": "Se-3d", "x": 51.81, "y": 10},
      {"s": "Se-3d", "x": 51.71, "y": 11}, {"s": "Se-3d", "x": 51.61, "y": 6}, {"s": "Se-3d", "x": 51.45, "y": 0}, {"s": "Se-3d", "x": 51.25, "y": 0},
      {"s": "Se-3d", "x": 51.1, "y": 1}, {"s": "Se-3d", "x": 50.9, "y": 8}, {"s": "Se-3d", "x": 50.7, "y": 10}, {"s": "Se-3d", "x": 50.44, "y": 10},
      {"s": "Se-3d", "x": 50.09, "y": 11}, {"s": "Se-3d", "x": 50.0, "y": 11},
      {"s": "3d₅/₂ fitted", "x": 53.05, "y": 13.0}, {"s": "3d₅/₂ fitted", "x": 53.25, "y": 13.3}, {"s": "3d₅/₂ fitted", "x": 53.35, "y": 13.7}, {"s": "3d₅/₂ fitted", "x": 53.45, "y": 14.5},
      {"s": "3d₅/₂ fitted", "x": 53.55, "y": 16.2}, {"s": "3d₅/₂ fitted", "x": 53.65, "y": 19.3}, {"s": "3d₅/₂ fitted", "x": 53.75, "y": 24.7}, {"s": "3d₅/₂ fitted", "x": 53.85, "y": 33.2},
      {"s": "3d₅/₂ fitted", "x": 53.95, "y": 45.7}, {"s": "3d₅/₂ fitted", "x": 54.05, "y": 62.8}, {"s": "3d₅/₂ fitted", "x": 54.15, "y": 84.0}, {"s": "3d₅/₂ fitted", "x": 54.25, "y": 107.9},
      {"s": "3d₅/₂ fitted", "x": 54.35, "y": 131.9}, {"s": "3d₅/₂ fitted", "x": 54.45, "y": 152.8}, {"s": "3d₅/₂ fitted", "x": 54.55, "y": 166.9}, {"s": "3d₅/₂ fitted", "x": 54.65, "y": 172.0},
      {"s": "3d₅/₂ fitted", "x": 54.75, "y": 166.9}, {"s": "3d₅/₂ fitted", "x": 54.85, "y": 152.8}, {"s": "3d₅/₂ fitted", "x": 54.95, "y": 131.9}, {"s": "3d₅/₂ fitted", "x": 55.05, "y": 107.9},
      {"s": "3d₅/₂ fitted", "x": 55.15, "y": 84.0}, {"s": "3d₅/₂ fitted", "x": 55.25, "y": 62.8}, {"s": "3d₅/₂ fitted", "x": 55.35, "y": 45.7}, {"s": "3d₅/₂ fitted", "x": 55.45, "y": 33.2},
      {"s": "3d₅/₂ fitted", "x": 55.55, "y": 24.7}, {"s": "3d₅/₂ fitted", "x": 55.65, "y": 19.3}, {"s": "3d₅/₂ fitted", "x": 55.75, "y": 16.2}, {"s": "3d₅/₂ fitted", "x": 55.85, "y": 14.5},
      {"s": "3d₅/₂ fitted", "x": 55.95, "y": 13.7}, {"s": "3d₅/₂ fitted", "x": 56.05, "y": 13.3}, {"s": "3d₅/₂ fitted", "x": 56.25, "y": 13.0},
      {"s": "3d₃/₂ fitted", "x": 50.0, "y": 13.0}, {"s": "3d₃/₂ fitted", "x": 53.92, "y": 13.0}, {"s": "3d₃/₂ fitted", "x": 54.12, "y": 13.2}, {"s": "3d₃/₂ fitted", "x": 54.22, "y": 13.4},
      {"s": "3d₃/₂ fitted", "x": 54.32, "y": 14.0}, {"s": "3d₃/₂ fitted", "x": 54.42, "y": 15.1}, {"s": "3d₃/₂ fitted", "x": 54.52, "y": 17.4}, {"s": "3d₃/₂ fitted", "x": 54.62, "y": 21.4},
      {"s": "3d₃/₂ fitted", "x": 54.72, "y": 28.2}, {"s": "3d₃/₂ fitted", "x": 54.82, "y": 38.5}, {"s": "3d₃/₂ fitted", "x": 54.92, "y": 52.9}, {"s": "3d₃/₂ fitted", "x": 55.02, "y": 71.3},
      {"s": "3d₃/₂ fitted", "x": 55.12, "y": 92.5}, {"s": "3d₃/₂ fitted", "x": 55.22, "y": 114.2}, {"s": "3d₃/₂ fitted", "x": 55.32, "y": 133.2}, {"s": "3d₃/₂ fitted", "x": 55.42, "y": 146.3},
      {"s": "3d₃/₂ fitted", "x": 55.52, "y": 151.0}, {"s": "3d₃/₂ fitted", "x": 55.62, "y": 146.3}, {"s": "3d₃/₂ fitted", "x": 55.72, "y": 133.2}, {"s": "3d₃/₂ fitted", "x": 55.82, "y": 114.2},
      {"s": "3d₃/₂ fitted", "x": 55.92, "y": 92.5}, {"s": "3d₃/₂ fitted", "x": 56.02, "y": 71.3}, {"s": "3d₃/₂ fitted", "x": 56.12, "y": 52.9}, {"s": "3d₃/₂ fitted", "x": 56.22, "y": 38.5},
      {"s": "3d₃/₂ fitted", "x": 56.32, "y": 28.2}, {"s": "3d₃/₂ fitted", "x": 56.42, "y": 21.4}, {"s": "3d₃/₂ fitted", "x": 56.52, "y": 17.4}, {"s": "3d₃/₂ fitted", "x": 56.62, "y": 15.1},
      {"s": "3d₃/₂ fitted", "x": 56.72, "y": 14.0}, {"s": "3d₃/₂ fitted", "x": 56.82, "y": 13.4}, {"s": "3d₃/₂ fitted", "x": 56.92, "y": 13.2}, {"s": "3d₃/₂ fitted", "x": 57.12, "y": 13.0},
      {"s": "3d₃/₂ fitted", "x": 60.0, "y": 13.0},
      {"s": "Cumulative fit peak", "x": 60.0, "y": 13.0}, {"s": "Cumulative fit peak", "x": 57.2, "y": 13.0}, {"s": "Cumulative fit peak", "x": 57.0, "y": 13.1}, {"s": "Cumulative fit peak", "x": 56.9, "y": 13.2},
      {"s": "Cumulative fit peak", "x": 56.8, "y": 13.5}, {"s": "Cumulative fit peak", "x": 56.7, "y": 14.1}, {"s": "Cumulative fit peak", "x": 56.6, "y": 15.5}, {"s": "Cumulative fit peak", "x": 56.5, "y": 18.0},
      {"s": "Cumulative fit peak", "x": 56.4, "y": 22.6}, {"s": "Cumulative fit peak", "x": 56.3, "y": 29.9}, {"s": "Cumulative fit peak", "x": 56.2, "y": 41.0}, {"s": "Cumulative fit peak", "x": 56.1, "y": 56.5},
      {"s": "Cumulative fit peak", "x": 56.0, "y": 75.7}, {"s": "Cumulative fit peak", "x": 55.9, "y": 97.9}, {"s": "Cumulative fit peak", "x": 55.8, "y": 120.5}, {"s": "Cumulative fit peak", "x": 55.7, "y": 140.9},
      {"s": "Cumulative fit peak", "x": 55.6, "y": 156.6}, {"s": "Cumulative fit peak", "x": 55.5, "y": 166.3}, {"s": "Cumulative fit peak", "x": 55.4, "y": 170.2}, {"s": "Cumulative fit peak", "x": 55.3, "y": 170.5},
      {"s": "Cumulative fit peak", "x": 55.2, "y": 169.8}, {"s": "Cumulative fit peak", "x": 55.1, "y": 170.8}, {"s": "Cumulative fit peak", "x": 55.0, "y": 174.4}, {"s": "Cumulative fit peak", "x": 54.9, "y": 179.7},
      {"s": "Cumulative fit peak", "x": 54.8, "y": 184.0}, {"s": "Cumulative fit peak", "x": 54.7, "y": 184.3}, {"s": "Cumulative fit peak", "x": 54.6, "y": 178.2}, {"s": "Cumulative fit peak", "x": 54.5, "y": 164.7},
      {"s": "Cumulative fit peak", "x": 54.4, "y": 144.8}, {"s": "Cumulative fit peak", "x": 54.3, "y": 120.9}, {"s": "Cumulative fit peak", "x": 54.2, "y": 96.0}, {"s": "Cumulative fit peak", "x": 54.1, "y": 73.0},
      {"s": "Cumulative fit peak", "x": 54.0, "y": 53.7}, {"s": "Cumulative fit peak", "x": 53.9, "y": 38.9}, {"s": "Cumulative fit peak", "x": 53.8, "y": 28.5}, {"s": "Cumulative fit peak", "x": 53.7, "y": 21.6},
      {"s": "Cumulative fit peak", "x": 53.6, "y": 17.5}, {"s": "Cumulative fit peak", "x": 53.5, "y": 15.2}, {"s": "Cumulative fit peak", "x": 53.4, "y": 14.0}, {"s": "Cumulative fit peak", "x": 53.3, "y": 13.4},
      {"s": "Cumulative fit peak", "x": 53.2, "y": 13.2}, {"s": "Cumulative fit peak", "x": 53.0, "y": 13.0}, {"s": "Cumulative fit peak", "x": 50.0, "y": 13.0}
    ]
  }
}
